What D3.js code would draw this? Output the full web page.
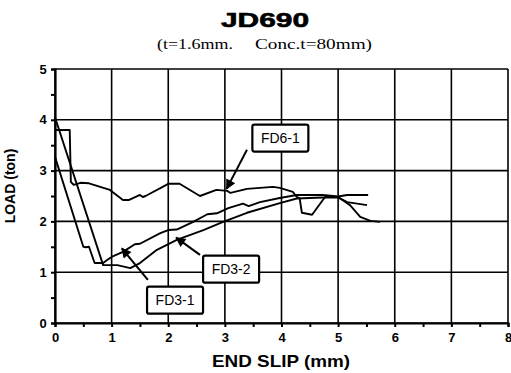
<!DOCTYPE html>
<html><head><meta charset="utf-8">
<script src="https://cdn.jsdelivr.net/npm/d3@7"></script>
<style>body{margin:0;background:#fff}svg{display:block}</style>
</head><body>
<svg id="c" width="511" height="373"></svg>
<script>
const title = "JD690";
const subtitleA = "(t=1.6mm.";
const subtitleB = "Conc.t=80mm)";
const xLabel = "END SLIP (mm)";
const yLabel = "LOAD (ton)";
const xTicks = [0,1,2,3,4,5,6,7,8];
const yTicks = [0,1,2,3,4,5];
const minorX = [0.5,1.5,2.5,3.5,4.5,5.5,6.5,7.5];
const minorY = [0.5,1.5,2.5,3.5,4.5];

const seriesNames = ["FD6-1","FD3-1","FD3-2"];
const fd61 = [[0,3.8],[0.26,3.8],[0.28,2.78],[0.33,2.72],[0.45,2.76],[0.6,2.75],[0.97,2.62],[1.2,2.42],[1.3,2.42],[1.5,2.52],[1.55,2.48],[1.6,2.5],[2.0,2.74],[2.2,2.74],[2.56,2.5],[2.85,2.62],[3.04,2.6],[3.1,2.56],[3.39,2.64],[3.85,2.68],[3.97,2.66],[4.2,2.58],[4.27,2.48],[4.32,2.46],[4.36,2.17],[4.54,2.13],[4.73,2.42],[4.77,2.48],[5.0,2.48],[5.21,2.32],[5.39,2.09],[5.57,2.01],[5.74,1.99]];
const fd31 = [[0,3.27],[0.5,1.5],[0.55,1.49],[0.6,1.5],[0.7,1.18],[0.85,1.18],[0.92,1.24],[1.0,1.3],[1.2,1.4],[1.41,1.55],[1.5,1.56],[1.86,1.77],[2.0,1.83],[2.15,1.84],[2.44,1.99],[2.69,2.14],[2.86,2.16],[3.06,2.26],[3.32,2.35],[3.42,2.3],[3.62,2.38],[3.97,2.46],[4.27,2.52],[4.73,2.52],[5.0,2.49],[5.16,2.52],[5.53,2.52]];
const fd32 = [[0,4.05],[0.85,1.14],[1.1,1.14],[1.33,1.08],[1.5,1.18],[1.8,1.44],[2.16,1.64],[2.62,1.83],[2.97,1.99],[3.39,2.17],[3.97,2.36],[4.27,2.45],[4.73,2.47],[5.0,2.47],[5.16,2.38],[5.51,2.32]];
const labelText = ["FD6-1","FD3-1","FD3-2"];
const labelPos = [[3.98,3.64],[2.12,0.45],[3.11,1.06]];
const arrowFrom = [[3.39,3.41],[1.64,0.85],[2.56,1.34]];
const arrowTip = [[3.03,2.64],[1.18,1.47],[2.14,1.68]];

const svg = d3.select("#c");
const m = {l:55, r:508, t:69, b:323};
const x = d3.scaleLinear().domain([0,8]).range([m.l, m.r]);
const y = d3.scaleLinear().domain([0,5]).range([m.b, m.t]);
const sans = "Liberation Sans, Arial, sans-serif";

// grid
const g = svg.append("g").attr("stroke","#000").attr("stroke-width",1.6);
g.selectAll(".gx").data(xTicks).join("line")
  .attr("x1",d=>x(d)).attr("x2",d=>x(d)).attr("y1",y(0)).attr("y2",y(5));
g.selectAll(".gy").data(yTicks).join("line")
  .attr("x1",x(0)).attr("x2",x(8)).attr("y1",d=>y(d)).attr("y2",d=>y(d));

// axes
const ax = svg.append("g").attr("transform",`translate(0,${y(0)})`)
  .call(d3.axisBottom(x).tickValues(minorX.concat(xTicks)).tickSize(4).tickFormat(d=>Number.isInteger(d)?d:""));
const ay = svg.append("g").attr("transform",`translate(${x(0)},0)`)
  .call(d3.axisLeft(y).tickValues(minorY.concat(yTicks)).tickSize(4).tickFormat(d=>Number.isInteger(d)?d:""));
[ax,ay].forEach(a=>{
  a.select(".domain").attr("stroke-width",2.2);
  a.selectAll(".tick line").attr("stroke-width",2);
  a.selectAll("text").attr("font-family",sans).attr("font-weight","bold").attr("font-size",13).attr("fill","#000");
});
ax.selectAll("text").attr("dy","0.9em");
ay.selectAll("text").attr("dx","-0.1em");

// curves
const line = d3.line().x(d=>x(d[0])).y(d=>y(d[1]));
[fd61,fd31,fd32].forEach(s=>{
  svg.append("path").datum(s).attr("d",line).attr("fill","none").attr("stroke","#000").attr("stroke-width",1.9).attr("stroke-linejoin","round");
});

// arrows & labels
const defs = svg.append("defs");
defs.append("marker").attr("id","ah").attr("viewBox","0 0 10 10").attr("refX",9).attr("refY",5)
  .attr("markerWidth",17).attr("markerHeight",10).attr("markerUnits","userSpaceOnUse").attr("orient","auto")
  .append("path").attr("d","M0,0L10,5L0,10Z").attr("fill","#000");
labelText.forEach((t,i)=>{
  svg.append("line").attr("x1",x(arrowFrom[i][0])).attr("y1",y(arrowFrom[i][1]))
    .attr("x2",x(arrowTip[i][0])).attr("y2",y(arrowTip[i][1]))
    .attr("stroke","#000").attr("stroke-width",2).attr("marker-end","url(#ah)");
  const cx = x(labelPos[i][0]), cy = y(labelPos[i][1]);
  svg.append("rect").attr("x",cx-28).attr("y",cy-13.5).attr("width",56).attr("height",27).attr("rx",2)
    .attr("fill","#fff").attr("stroke","#000").attr("stroke-width",2.2);
  svg.append("text").attr("x",cx).attr("y",cy+5).attr("text-anchor","middle")
    .attr("font-family",sans).attr("font-size",14).text(t);
});

// titles
svg.append("text").attr("x",265).attr("y",27).attr("text-anchor","middle")
  .attr("font-family",sans).attr("font-weight","bold").attr("font-size",21).attr("stroke","#000").attr("stroke-width",0.6)
  .attr("textLength",88).attr("lengthAdjust","spacingAndGlyphs").text(title);
svg.append("text").attr("x",157).attr("y",49)
  .attr("font-family","Liberation Serif, Times New Roman, serif").attr("font-size",15)
  .attr("textLength",76).attr("lengthAdjust","spacingAndGlyphs").text(subtitleA);
svg.append("text").attr("x",255).attr("y",49)
  .attr("font-family","Liberation Serif, Times New Roman, serif").attr("font-size",15)
  .attr("textLength",117).attr("lengthAdjust","spacingAndGlyphs").text(subtitleB);
svg.append("text").attr("x",281).attr("y",367).attr("text-anchor","middle")
  .attr("font-family",sans).attr("font-weight","bold").attr("font-size",17)
  .attr("textLength",138).attr("lengthAdjust","spacingAndGlyphs").text(xLabel);
svg.append("text").attr("transform","translate(15,186) rotate(-90)").attr("text-anchor","middle")
  .attr("font-family",sans).attr("font-weight","bold").attr("font-size",14).text(yLabel);
</script>
</body></html>
